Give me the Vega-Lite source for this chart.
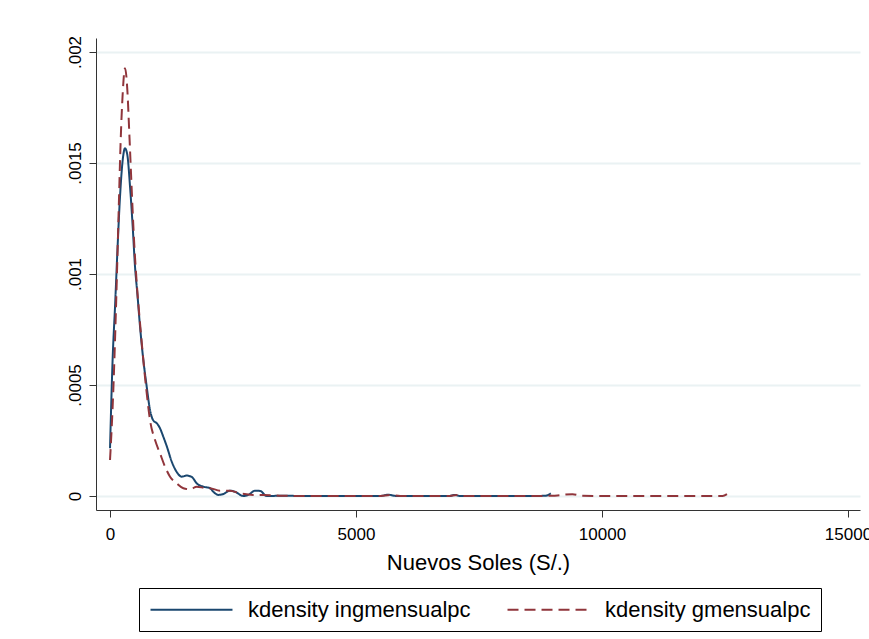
{
  "$schema": "https://vega.github.io/schema/vega-lite/v6.json",
  "width": 764,
  "height": 472,
  "autosize": {"type": "none"},
  "padding": {"left": 96, "top": 38, "right": 9, "bottom": 129},
  "background": "white",
  "config": {
    "view": {"stroke": null},
    "font": "Liberation Sans",
    "axis": {"labelFont": "Liberation Sans", "titleFont": "Liberation Sans", "labelColor": "black", "titleColor": "black", "domainColor": "#333333", "tickColor": "#333333", "titleFontWeight": "normal"}
  },
  "data": {
    "values": [
      {"x": 0, "y": 0.000215, "s": "kdensity ingmensualpc"},
      {"x": 55, "y": 0.000628, "s": "kdensity ingmensualpc"},
      {"x": 102, "y": 0.000853, "s": "kdensity ingmensualpc"},
      {"x": 148, "y": 0.001093, "s": "kdensity ingmensualpc"},
      {"x": 203, "y": 0.001348, "s": "kdensity ingmensualpc"},
      {"x": 258, "y": 0.001514, "s": "kdensity ingmensualpc"},
      {"x": 305, "y": 0.001566, "s": "kdensity ingmensualpc"},
      {"x": 352, "y": 0.001536, "s": "kdensity ingmensualpc"},
      {"x": 407, "y": 0.001393, "s": "kdensity ingmensualpc"},
      {"x": 461, "y": 0.001213, "s": "kdensity ingmensualpc"},
      {"x": 508, "y": 0.001033, "s": "kdensity ingmensualpc"},
      {"x": 555, "y": 0.000913, "s": "kdensity ingmensualpc"},
      {"x": 610, "y": 0.000763, "s": "kdensity ingmensualpc"},
      {"x": 677, "y": 0.000613, "s": "kdensity ingmensualpc"},
      {"x": 746, "y": 0.000492, "s": "kdensity ingmensualpc"},
      {"x": 813, "y": 0.000387, "s": "kdensity ingmensualpc"},
      {"x": 880, "y": 0.00034, "s": "kdensity ingmensualpc"},
      {"x": 949, "y": 0.000328, "s": "kdensity ingmensualpc"},
      {"x": 1016, "y": 0.000305, "s": "kdensity ingmensualpc"},
      {"x": 1083, "y": 0.000267, "s": "kdensity ingmensualpc"},
      {"x": 1152, "y": 0.000225, "s": "kdensity ingmensualpc"},
      {"x": 1254, "y": 0.000155, "s": "kdensity ingmensualpc"},
      {"x": 1356, "y": 0.000108, "s": "kdensity ingmensualpc"},
      {"x": 1457, "y": 0.000087, "s": "kdensity ingmensualpc"},
      {"x": 1559, "y": 0.000092, "s": "kdensity ingmensualpc"},
      {"x": 1661, "y": 0.000086, "s": "kdensity ingmensualpc"},
      {"x": 1762, "y": 0.000057, "s": "kdensity ingmensualpc"},
      {"x": 1896, "y": 0.000042, "s": "kdensity ingmensualpc"},
      {"x": 2033, "y": 0.000035, "s": "kdensity ingmensualpc"},
      {"x": 2100, "y": 0.000019, "s": "kdensity ingmensualpc"},
      {"x": 2201, "y": 0.000005, "s": "kdensity ingmensualpc"},
      {"x": 2303, "y": 0.000009, "s": "kdensity ingmensualpc"},
      {"x": 2439, "y": 0.000024, "s": "kdensity ingmensualpc"},
      {"x": 2541, "y": 0.000019, "s": "kdensity ingmensualpc"},
      {"x": 2709, "y": 0.0, "s": "kdensity ingmensualpc"},
      {"x": 2811, "y": 0.000005, "s": "kdensity ingmensualpc"},
      {"x": 2947, "y": 0.000024, "s": "kdensity ingmensualpc"},
      {"x": 3049, "y": 0.000023, "s": "kdensity ingmensualpc"},
      {"x": 3185, "y": 0.0, "s": "kdensity ingmensualpc"},
      {"x": 3500, "y": 0.000001, "s": "kdensity ingmensualpc"},
      {"x": 4000, "y": 0.0, "s": "kdensity ingmensualpc"},
      {"x": 4500, "y": 0.0, "s": "kdensity ingmensualpc"},
      {"x": 5000, "y": 0.0, "s": "kdensity ingmensualpc"},
      {"x": 5500, "y": 0.0, "s": "kdensity ingmensualpc"},
      {"x": 5650, "y": 0.000006, "s": "kdensity ingmensualpc"},
      {"x": 5800, "y": 0.0000005, "s": "kdensity ingmensualpc"},
      {"x": 6500, "y": 0.0, "s": "kdensity ingmensualpc"},
      {"x": 6900, "y": 0.0, "s": "kdensity ingmensualpc"},
      {"x": 7000, "y": 0.000005, "s": "kdensity ingmensualpc"},
      {"x": 7100, "y": 0.0000005, "s": "kdensity ingmensualpc"},
      {"x": 7500, "y": 0.0, "s": "kdensity ingmensualpc"},
      {"x": 8000, "y": 0.0, "s": "kdensity ingmensualpc"},
      {"x": 8500, "y": 0.0, "s": "kdensity ingmensualpc"},
      {"x": 8850, "y": 0.000001, "s": "kdensity ingmensualpc"},
      {"x": 8960, "y": 0.000012, "s": "kdensity ingmensualpc"},
      {"x": 0, "y": 0.000162, "s": "kdensity gmensualpc"},
      {"x": 67, "y": 0.000478, "s": "kdensity gmensualpc"},
      {"x": 122, "y": 0.000853, "s": "kdensity gmensualpc"},
      {"x": 169, "y": 0.001229, "s": "kdensity gmensualpc"},
      {"x": 217, "y": 0.001604, "s": "kdensity gmensualpc"},
      {"x": 258, "y": 0.001814, "s": "kdensity gmensualpc"},
      {"x": 305, "y": 0.001927, "s": "kdensity gmensualpc"},
      {"x": 352, "y": 0.001829, "s": "kdensity gmensualpc"},
      {"x": 392, "y": 0.001634, "s": "kdensity gmensualpc"},
      {"x": 441, "y": 0.001379, "s": "kdensity gmensualpc"},
      {"x": 488, "y": 0.001153, "s": "kdensity gmensualpc"},
      {"x": 543, "y": 0.000958, "s": "kdensity gmensualpc"},
      {"x": 610, "y": 0.000778, "s": "kdensity gmensualpc"},
      {"x": 677, "y": 0.000613, "s": "kdensity gmensualpc"},
      {"x": 746, "y": 0.000463, "s": "kdensity gmensualpc"},
      {"x": 813, "y": 0.000342, "s": "kdensity gmensualpc"},
      {"x": 915, "y": 0.000252, "s": "kdensity gmensualpc"},
      {"x": 1016, "y": 0.000192, "s": "kdensity gmensualpc"},
      {"x": 1118, "y": 0.000132, "s": "kdensity gmensualpc"},
      {"x": 1220, "y": 0.000087, "s": "kdensity gmensualpc"},
      {"x": 1356, "y": 0.000057, "s": "kdensity gmensualpc"},
      {"x": 1490, "y": 0.000035, "s": "kdensity gmensualpc"},
      {"x": 1626, "y": 0.00003, "s": "kdensity gmensualpc"},
      {"x": 1762, "y": 0.000042, "s": "kdensity gmensualpc"},
      {"x": 1931, "y": 0.000036, "s": "kdensity gmensualpc"},
      {"x": 2033, "y": 0.000035, "s": "kdensity gmensualpc"},
      {"x": 2236, "y": 0.000024, "s": "kdensity gmensualpc"},
      {"x": 2439, "y": 0.000024, "s": "kdensity gmensualpc"},
      {"x": 2642, "y": 0.000012, "s": "kdensity gmensualpc"},
      {"x": 2913, "y": 0.000005, "s": "kdensity gmensualpc"},
      {"x": 3116, "y": 0.000005, "s": "kdensity gmensualpc"},
      {"x": 3319, "y": 0.000003, "s": "kdensity gmensualpc"},
      {"x": 3490, "y": 0.000001, "s": "kdensity gmensualpc"},
      {"x": 4000, "y": 0.0, "s": "kdensity gmensualpc"},
      {"x": 5000, "y": 0.0, "s": "kdensity gmensualpc"},
      {"x": 5500, "y": 0.0, "s": "kdensity gmensualpc"},
      {"x": 5700, "y": 0.000004, "s": "kdensity gmensualpc"},
      {"x": 5900, "y": 0.0, "s": "kdensity gmensualpc"},
      {"x": 6900, "y": 0.0, "s": "kdensity gmensualpc"},
      {"x": 7050, "y": 0.000004, "s": "kdensity gmensualpc"},
      {"x": 7200, "y": 0.0, "s": "kdensity gmensualpc"},
      {"x": 8500, "y": 0.0, "s": "kdensity gmensualpc"},
      {"x": 9000, "y": 0.000001, "s": "kdensity gmensualpc"},
      {"x": 9150, "y": 0.000004, "s": "kdensity gmensualpc"},
      {"x": 9400, "y": 0.000008, "s": "kdensity gmensualpc"},
      {"x": 9600, "y": 0.000001, "s": "kdensity gmensualpc"},
      {"x": 10000, "y": 0.0, "s": "kdensity gmensualpc"},
      {"x": 11000, "y": 0.0, "s": "kdensity gmensualpc"},
      {"x": 12000, "y": 0.0, "s": "kdensity gmensualpc"},
      {"x": 12450, "y": 0.0, "s": "kdensity gmensualpc"},
      {"x": 12540, "y": 0.000008, "s": "kdensity gmensualpc"}
    ]
  },
  "mark": {"type": "line", "interpolate": "monotone", "strokeWidth": 2},
  "encoding": {
    "x": {
      "field": "x", "type": "quantitative",
      "scale": {"domain": [-285, 15244], "nice": false, "zero": false},
      "axis": {"values": [0, 5000, 10000, 15000], "grid": false, "tickSize": 7, "labelFontSize": 17, "labelPadding": 9, "title": "Nuevos Soles (S/.)", "titleFontSize": 22, "titlePadding": 10, "format": "d", "labelFlush": false}
    },
    "y": {
      "field": "y", "type": "quantitative",
      "scale": {"domain": [-0.0000631, 0.002063], "nice": false, "zero": false},
      "axis": {"values": [0, 0.0005, 0.001, 0.0015, 0.002], "title": null, "tickSize": 7, "labelFontSize": 17, "labelAngle": 270, "labelAlign": "center", "labelBaseline": "bottom", "labelPadding": 5, "labelExpr": "datum.value == 0 ? '0' : slice(toString(datum.value), 1)", "gridColor": "#eaf2f3", "gridWidth": 2}
    },
    "color": {
      "field": "s", "type": "nominal",
      "scale": {"domain": ["kdensity ingmensualpc", "kdensity gmensualpc"], "range": ["#1a476f", "#90353b"]},
      "legend": {"title": null, "orient": "none", "legendX": 43, "legendY": 550, "direction": "horizontal", "strokeColor": "black", "padding": 10, "symbolType": "M-4,0L4,0", "symbolSize": 420, "symbolStrokeWidth": 2, "symbolFillColor": "transparent", "labelFontSize": 22, "labelFont": "Liberation Sans", "labelColor": "black", "labelLimit": 0, "labelOffset": 45, "symbolOffset": 31, "columnPadding": 32}
    },
    "strokeDash": {
      "field": "s", "type": "nominal",
      "scale": {"domain": ["kdensity ingmensualpc", "kdensity gmensualpc"], "range": [[1, 0], [11, 6]]}
    }
  }
}
